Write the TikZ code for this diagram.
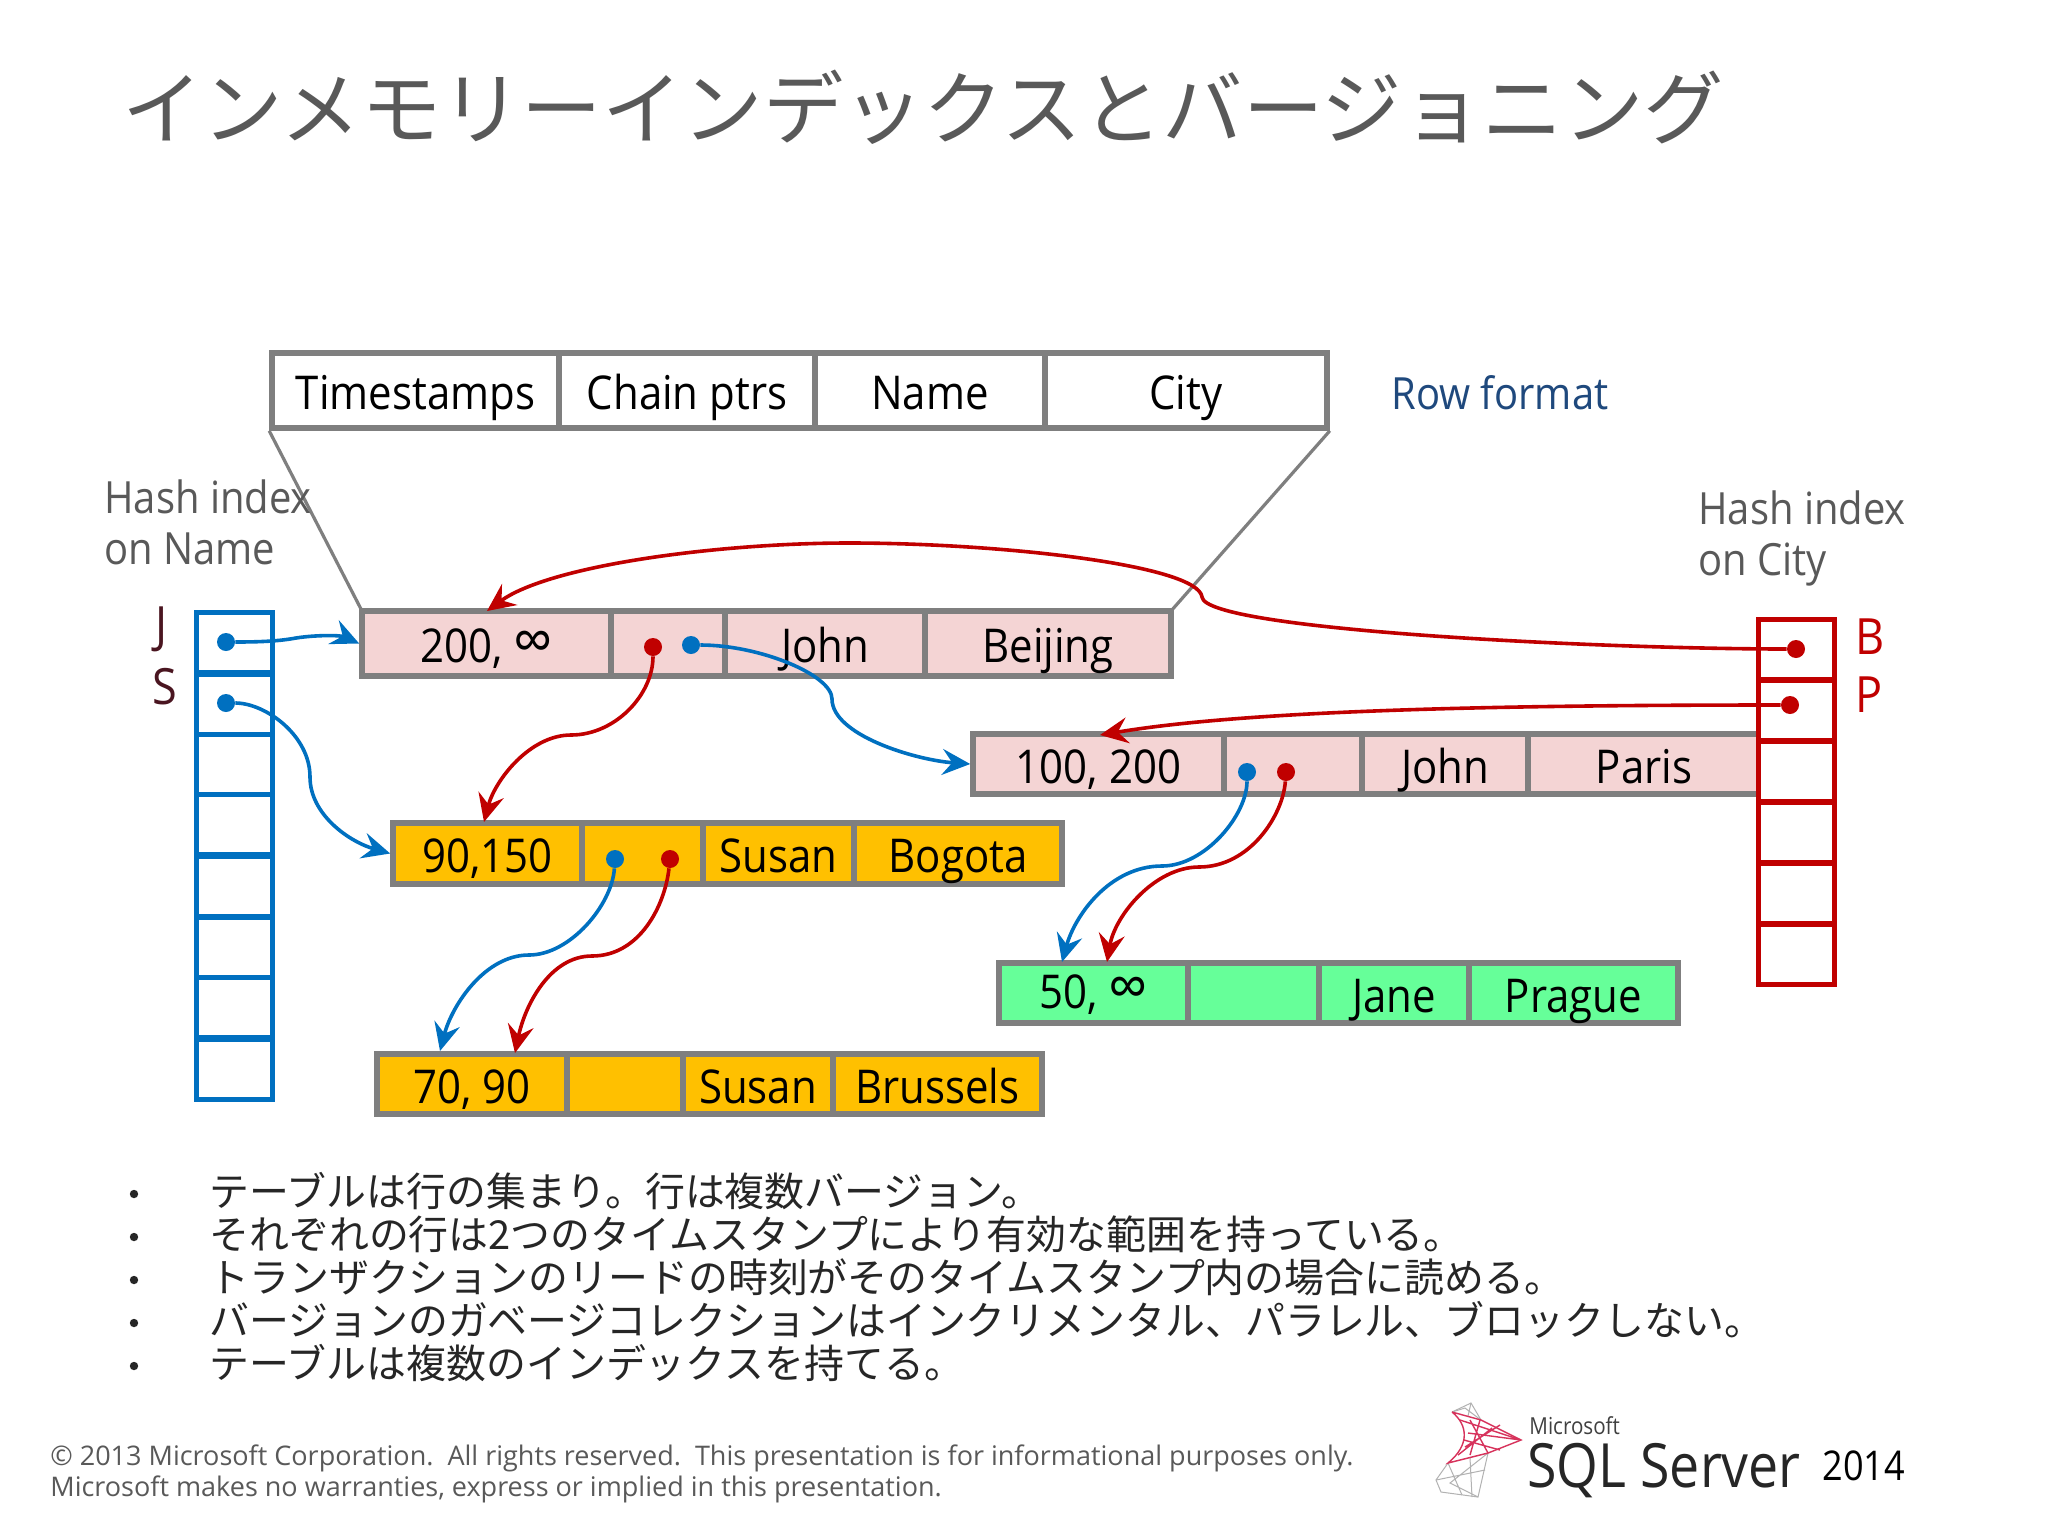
\documentclass[tikz,border=0pt]{standalone}
\usepackage{fontspec}
\usetikzlibrary{arrows.meta}
\setmainfont{Open Sans}
\newfontfamily\cjk{Noto Sans CJK JP}
\newfontfamily\lat[FakeStretch=0.9]{Open Sans}
\newfontfamily\logo[FakeStretch=0.88]{Open Sans}
\definecolor{gr}{HTML}{7F7F7F}
\definecolor{txg}{HTML}{595959}
\definecolor{pinkc}{HTML}{F4D4D4}
\definecolor{amb}{HTML}{FFC000}
\definecolor{grn}{HTML}{66FF99}
\definecolor{bl}{HTML}{0070C0}
\definecolor{rd}{HTML}{C00000}
\definecolor{nav}{HTML}{1F497D}
\definecolor{mar}{HTML}{4A1520}
\newcommand\infsym{{\fontsize{31}{23}\selectfont ∞}}
\tikzset{
 x=0.5pt,y=-0.5pt,
 cellbox/.style={draw=gr,line width=2.8pt,inner sep=0pt,text=black,
   font=\lat\fontsize{23.3}{23.3}\selectfont,text height=22pt,text depth=3pt,align=center},
 idxb/.style={draw=bl,line width=2.5pt,fill=white,inner sep=0pt},
 idxr/.style={draw=rd,line width=2.5pt,fill=white,inner sep=0pt},
 dotb/.style={circle,fill=bl,inner sep=0pt,minimum size=9pt},
 dotr/.style={circle,fill=rd,inner sep=0pt,minimum size=9pt},
 linkb/.style={draw=bl,line width=1.8pt,-{Stealth[length=14pt,width=13pt,inset=5pt]}},
 linkr/.style={draw=rd,line width=1.8pt,-{Stealth[length=14pt,width=13pt,inset=5pt]}},
 lab/.style={inner sep=0pt,anchor=west,font=\lat\fontsize{22.2}{25.5}\selectfont,text=txg,align=left},
 keyl/.style={inner sep=0pt,anchor=west,font=\lat\fontsize{25}{25}\selectfont},
 bullet/.style={inner sep=0pt,anchor=west,font=\cjk\fontsize{19.95}{20}\selectfont,text=black!85},
 bdot/.style={circle,fill=black!85,inner sep=0pt,minimum size=4.2pt},
 funnel/.style={draw=gr,line width=1.6pt},
 meshr/.style={draw=rd!80!magenta!80,line width=.7pt},
 meshg/.style={draw=black!30,line width=.5pt},
}
\newcommand\cell[7]{\node[cellbox,fill=#6,minimum width={(#3-#2)*0.5pt},minimum height={(#5-#4)*0.5pt}] (#1) at ({(#2+#3)/2},{(#4+#5)/2}) {#7};}
\newcommand\slot[5]{\node[#5,minimum width={(#3-#2)*0.5pt},minimum height=30pt] (#1) at ({(#2+#3)/2},#4) {};}
\begin{document}
\begin{tikzpicture}
\useasboundingbox (0,0) rectangle (2048,1536);
\fill[white] (0,0) rectangle (2048,1536);
\node[inner sep=0pt,anchor=west,text=txg,font=\cjk\fontsize{40.2}{40}\selectfont] (title) at (122,107) {インメモリーインデックスとバージョニング};

% header
\cell{h1}{272}{559}{353}{428}{white}{Timestamps}
\cell{h2}{559}{815}{353}{428}{white}{Chain ptrs}
\cell{h3}{815}{1045}{353}{428}{white}{Name}
\cell{h4}{1045}{1327}{353}{428}{white}{City}
\node[lab,text=nav] (rf) at (1391,393) {Row format};

% funnel
\coordinate (fl) at (362,611);
\coordinate (fr) at (1171,611);
\draw[funnel] (h1.south west) -- (fl);
\draw[funnel] (h4.south east) -- (fr);

% rows
\cell{a1}{362}{611}{611}{676}{pinkc}{200, \infsym}
\cell{a2}{611}{725}{611}{676}{pinkc}{}
\cell{a3}{725}{925}{611}{676}{pinkc}{John}
\cell{a4}{925}{1171}{611}{676}{pinkc}{Beijing}
\cell{b1}{973}{1224}{734}{794}{pinkc}{100, 200}
\cell{b2}{1224}{1362}{734}{794}{pinkc}{}
\cell{b3}{1362}{1528}{734}{794}{pinkc}{John}
\cell{b4}{1528}{1760}{734}{794}{pinkc}{Paris}
\cell{c1}{393}{582}{823}{884}{amb}{90,150}
\cell{c2}{582}{703}{823}{884}{amb}{}
\cell{c3}{703}{854}{823}{884}{amb}{Susan}
\cell{c4}{854}{1062}{823}{884}{amb}{Bogota}
\cell{d1}{377}{567}{1054}{1114}{amb}{70, 90}
\cell{d2}{567}{683}{1054}{1114}{amb}{}
\cell{d3}{683}{833}{1054}{1114}{amb}{Susan}
\cell{d4}{833}{1042}{1054}{1114}{amb}{Brussels}
\cell{e1}{999}{1188}{963}{1023}{grn}{\raisebox{2pt}{50, \infsym}}
\cell{e2}{1188}{1319}{963}{1023}{grn}{}
\cell{e3}{1319}{1469}{963}{1023}{grn}{Jane}
\cell{e4}{1469}{1678}{963}{1023}{grn}{Prague}

% left index
\slot{l1}{196}{272}{642}{idxb}
\slot{l2}{196}{272}{704}{idxb}
\slot{l3}{196}{272}{764}{idxb}
\slot{l4}{196}{272}{824}{idxb}
\slot{l5}{196}{272}{886}{idxb}
\slot{l6}{196}{272}{947}{idxb}
\slot{l7}{196}{272}{1007}{idxb}
\slot{l8}{196}{272}{1069}{idxb}
% right index
\slot{r1}{1758}{1834}{649}{idxr}
\slot{r2}{1758}{1834}{710}{idxr}
\slot{r3}{1758}{1834}{771}{idxr}
\slot{r4}{1758}{1834}{832}{idxr}
\slot{r5}{1758}{1834}{893}{idxr}
\slot{r6}{1758}{1834}{954}{idxr}

% labels
\node[lab] (hn) at (104,522) {Hash index\\on Name};
\node[lab] (hc) at (1698,538) {Hash index\\on City};
\node[keyl,text=mar] (kj) at (155,629) {J};
\node[keyl,text=mar] (ks) at (152,687) {S};
\node[keyl,text=rd] (kb) at (1855,637) {B};
\node[keyl,text=rd] (kp) at (1855,695) {P};

% dots
\node[dotb] (dj) at (226,642) {};
\node[dotb] (ds) at (226,703) {};
\node[dotr] (da) at (653,647) {};
\node[dotb] (db) at (691,645) {};
\node[dotb] (dc) at (1247,772) {};
\node[dotr] (dd) at (1286,772) {};
\node[dotb] (de) at (615,859) {};
\node[dotr] (df) at (670,859) {};
\node[dotr] (dB) at (1796,649) {};
\node[dotr] (dP) at (1790,705) {};

% arrival points
\coordinate (ta1) at (487,611);
\coordinate (tb1) at (1100,735);
\coordinate (tc1) at (484,822);
\coordinate (td1) at (440,1051);
\coordinate (td2) at (515,1053);
\coordinate (te1) at (1062,962);
\coordinate (te2) at (1107,962);

% connectors
\draw[linkb] (dj) .. controls (262,642) and (280,641) .. (296,638) .. controls (315,635) and (340,635) .. (a1.west);
\draw[linkb] (ds) .. controls (265,703) and (310,735) .. (310,777) .. controls (310,815) and (350,842) .. (c1.west);
\draw[linkb] (db) .. controls (760,645) and (832,675) .. (832,699) .. controls (832,735) and (915,760) .. (b1.west);
\draw[linkr] (da) .. controls (653,695) and (615,735) .. (571,735) .. controls (530,735) and (495,780) .. (tc1);
\draw[linkb] (dc) .. controls (1247,815) and (1205,866) .. (1162,866) .. controls (1110,866) and (1075,915) .. (te1);
\draw[linkr] (dd) .. controls (1283,815) and (1250,867) .. (1199,867) .. controls (1155,867) and (1115,915) .. (te2);
\draw[linkb] (de) .. controls (612,905) and (570,955) .. (529,955) .. controls (485,955) and (452,1005) .. (td1);
\draw[linkr] (df) .. controls (665,905) and (640,956) .. (592,956) .. controls (550,956) and (525,1005) .. (td2);
\draw[linkr] (dB) .. controls (1600,649) and (1205,630) .. (1202,597) .. controls (1198,565) and (1000,543) .. (849,543) .. controls (720,543) and (550,565) .. (ta1);
\draw[linkr] (dP) .. controls (1500,705) and (1250,710) .. (tb1);

% bullets
\node[bdot] (b1d) at (134,1194) {};
\node[bdot] (b2d) at (134,1237) {};
\node[bdot] (b3d) at (134,1280) {};
\node[bdot] (b4d) at (134,1323) {};
\node[bdot] (b5d) at (134,1366) {};
\node[bullet] (t1) at (209,1191) {テーブルは行の集まり。行は複数バージョン。};
\node[bullet] (t2) at (209,1234) {それぞれの行は2つのタイムスタンプにより有効な範囲を持っている。};
\node[bullet] (t3) at (209,1277) {トランザクションのリードの時刻がそのタイムスタンプ内の場合に読める。};
\node[bullet] (t4) at (209,1320) {バージョンのガベージコレクションはインクリメンタル、パラレル、ブロックしない。};
\node[bullet] (t5) at (209,1363) {テーブルは複数のインデックスを持てる。};

% footer
\node[inner sep=0pt,anchor=west,align=left,text=txg,font=\fontsize{13.5}{15.2}\selectfont] (foot) at (50,1474) {© 2013 Microsoft Corporation.\ \ All rights reserved.\ \ This presentation is for informational purposes only.\\Microsoft makes no warranties, express or implied in this presentation.};

% logo mesh
\draw[meshg] (1452,1412) -- (1471,1403) -- (1481,1420);
\draw[meshg] (1452,1412) -- (1465,1408) -- (1481,1420) (1471,1403) -- (1468,1416);
\draw[meshg] (1448,1463) -- (1436,1480) -- (1441,1492) -- (1478,1497) -- (1488,1453);
\draw[meshg] (1448,1463) -- (1462,1495) (1488,1453) -- (1450,1483) -- (1478,1497) (1470,1458) -- (1472,1497) (1436,1480) -- (1485,1470);
\draw[meshr] (1452,1412) -- (1481,1420) -- (1521,1440) -- (1488,1453) -- (1448,1463) .. controls (1470,1445) and (1468,1425) .. (1452,1412);
\draw[meshr] (1460,1420) -- (1521,1440) (1468,1433) -- (1521,1440) (1465,1447) -- (1500,1425) (1470,1420) -- (1488,1453) (1458,1455) -- (1492,1428) (1480,1420) -- (1470,1455) (1464,1440) -- (1500,1450);

% logo text
\node[inner sep=0pt,anchor=west,text=black!75,font=\logo\fontsize{11.7}{11.7}\selectfont] (ms) at (1529,1426) {Microsoft};
\node[inner sep=0pt,anchor=west,text=black!85,font=\logo\fontsize{30.5}{30.5}\selectfont] (sql) at (1527,1471) {SQL Server};
\node[inner sep=0pt,anchor=west,text=black,font=\logo\fontsize{20.5}{20.5}\selectfont] (yr) at (1822,1466) {2014};
\end{tikzpicture}
\end{document}
